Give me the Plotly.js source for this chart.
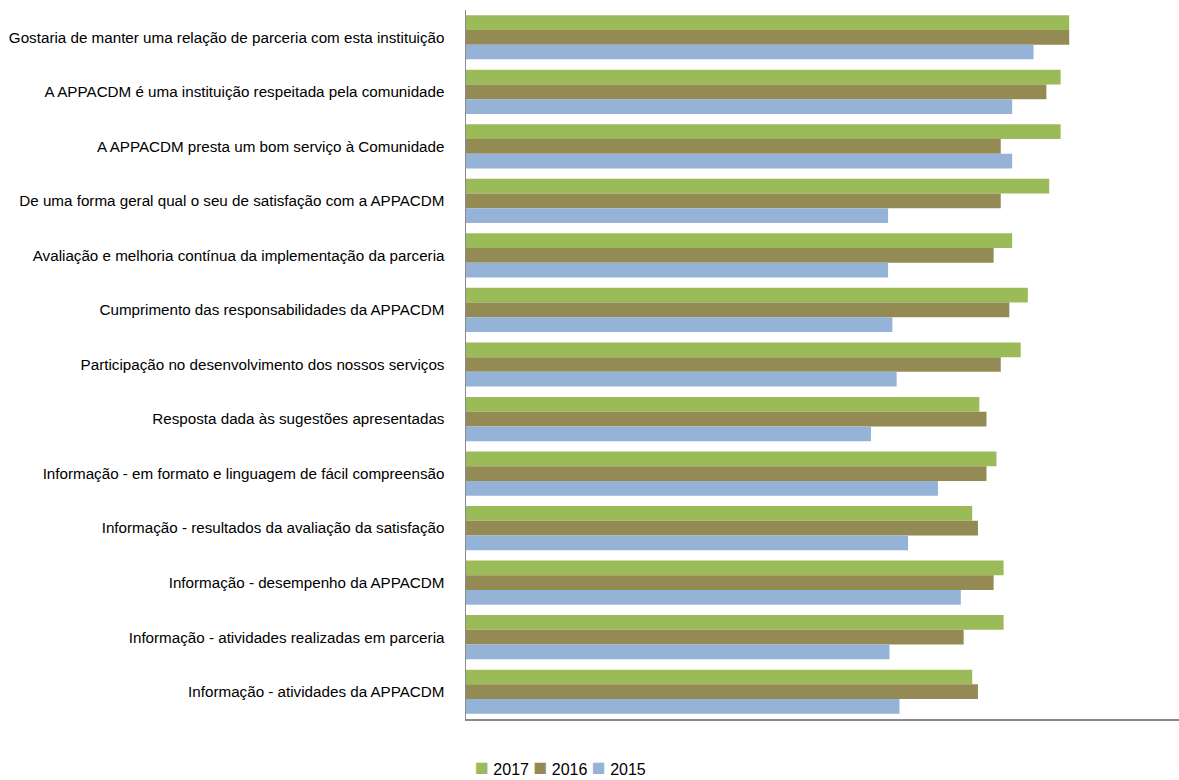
<!DOCTYPE html>
<html>
<head>
<meta charset="utf-8">
<script src="https://cdn.plot.ly/plotly-3.0.1.min.js"></script>
<style>
  html, body { margin: 0; padding: 0; background: #fff; }
  #chart { width: 1179px; height: 780px; }
</style>
</head>
<body>
<div id="chart"></div>
<script>
const categories = [
  "Gostaria de manter uma relação de parceria com esta instituição",
  "A APPACDM é uma instituição respeitada pela comunidade",
  "A APPACDM presta um bom serviço à Comunidade",
  "De uma forma geral qual o seu de satisfação com a APPACDM",
  "Avaliação e melhoria contínua da implementação da parceria",
  "Cumprimento das responsabilidades da APPACDM",
  "Participação no desenvolvimento dos nossos serviços",
  "Resposta dada às sugestões apresentadas",
  "Informação - em formato e linguagem de fácil compreensão",
  "Informação - resultados da avaliação da satisfação",
  "Informação - desempenho da APPACDM",
  "Informação - atividades realizadas em parceria",
  "Informação - atividades da APPACDM"
];
const values2017 = [4.23, 4.17, 4.17, 4.09, 3.83, 3.94, 3.89, 3.60, 3.72, 3.55, 3.77, 3.77, 3.55];
const values2016 = [4.23, 4.07, 3.75, 3.75, 3.70, 3.81, 3.75, 3.65, 3.65, 3.59, 3.70, 3.49, 3.59];
const values2015 = [3.98, 3.83, 3.83, 2.96, 2.96, 2.99, 3.02, 2.84, 3.31, 3.10, 3.47, 2.97, 3.04];
const seriesNames = ["2017", "2016", "2015"];
const seriesColors = ["#9BBB59", "#948A54", "#95B3D7"];
const seriesValues = [values2017, values2016, values2015];

const FONT = '"Liberation Sans", Arial, sans-serif';

const traces = seriesNames.map((name, i) => ({
  type: 'bar',
  orientation: 'h',
  name: name,
  y: categories,
  x: seriesValues[i],
  marker: { color: seriesColors[i], line: { width: 0 } },
  hoverinfo: 'x+y+name'
}));

const legendText = seriesNames.map((n, i) =>
  `<span style="color:${seriesColors[i]};font-size:23px">■</span> ${n}`
).join(' ');

const layout = {
  width: 1179,
  height: 780,
  margin: { l: 466, r: 0, t: 10, b: 61, pad: 0 },
  paper_bgcolor: '#ffffff',
  plot_bgcolor: '#ffffff',
  barmode: 'group',
  bargap: 0.19,
  bargroupgap: 0,
  showlegend: false,
  font: { family: FONT, size: 15, color: '#000000' },
  xaxis: {
    range: [0, 5],
    showgrid: false,
    zeroline: false,
    showticklabels: false,
    ticks: '',
    showline: true,
    linecolor: '#8a8a8a',
    linewidth: 1.5,
    fixedrange: true
  },
  yaxis: {
    autorange: 'reversed',
    showgrid: false,
    zeroline: false,
    ticks: '',
    showline: true,
    linecolor: '#8a8a8a',
    linewidth: 1.5,
    ticklabelstandoff: 17,
    tickfont: { family: FONT, size: 15.2, color: '#000000' },
    fixedrange: true
  },
  annotations: [{
    xref: 'paper', yref: 'paper',
    x: 0.132, y: -0.068,
    xanchor: 'center', yanchor: 'middle',
    showarrow: false,
    text: legendText,
    font: { family: FONT, size: 16, color: '#000000' }
  }]
};

Plotly.newPlot('chart', traces, layout, { displayModeBar: false, staticPlot: true });
</script>
</body>
</html>
